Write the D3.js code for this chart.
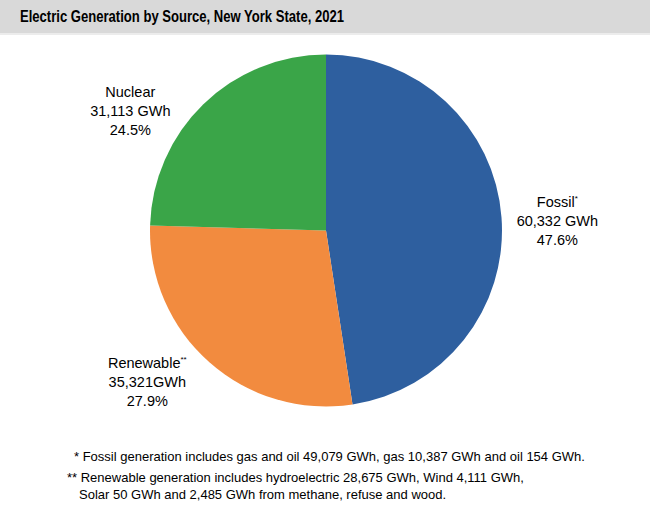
<!DOCTYPE html>
<html>
<head>
<meta charset="utf-8">
<script src="https://cdn.jsdelivr.net/npm/d3@7"></script>
<style>
  html, body { margin: 0; padding: 0; background: #ffffff; }
  svg { display: block; }
  text { font-family: "Liberation Sans", Arial, Helvetica, sans-serif; fill: #000; }
</style>
</head>
<body>
<svg id="chart" width="650" height="509"></svg>
<script>
const title = "Electric Generation by Source, New York State, 2021";
const categories = ["Fossil", "Renewable", "Nuclear"];
const values = [60332, 35321, 31113];
const valueLabels = ["60,332 GWh", "35,321GWh", "31,113 GWh"];
const percentLabels = ["47.6%", "27.9%", "24.5%"];
const markers = ["*", "**", ""];
const colors = ["#2e5f9f", "#f28b3f", "#3aa548"];
const footnotes = [
  ["* Fossil generation includes gas and oil 49,079 GWh, gas 10,387 GWh and oil 154 GWh."],
  ["** Renewable generation includes hydroelectric 28,675 GWh, Wind 4,111 GWh,",
   "Solar 50 GWh and 2,485 GWh from methane, refuse and wood."]
];

const svg = d3.select("#chart");
const W = 650, H = 509;

// title bar
svg.append("rect").attr("x", 0).attr("y", 0).attr("width", W).attr("height", 33).attr("fill", "#d9d9d9");
svg.append("rect").attr("x", 0).attr("y", 33).attr("width", W).attr("height", 2).attr("fill", "#ececec");
svg.append("text")
  .attr("x", 20).attr("y", 22)
  .attr("font-size", 16).attr("font-weight", "bold")
  .attr("textLength", 324).attr("lengthAdjust", "spacingAndGlyphs")
  .text(title);

// pie
const cx = 326, cy = 230.5, R = 176;
const data = categories.map((c, i) => ({ name: c, value: values[i], color: colors[i],
  vlabel: valueLabels[i], plabel: percentLabels[i], marker: markers[i] }));
const pie = d3.pie().sort(null).value(d => d.value);
const arc = d3.arc().innerRadius(0).outerRadius(R);
const arcs = pie(data);

const g = svg.append("g").attr("transform", `translate(${cx},${cy})`);
g.selectAll("path").data(arcs).join("path")
  .attr("d", arc)
  .attr("fill", d => d.data.color);

// labels placed outside along each slice's mid-angle, with small offsets
const labelArc = d3.arc().innerRadius(232).outerRadius(232);
const labelShift = [[0, 13], [-25, -17], [-34, 52]];
arcs.forEach((a, i) => {
  const [px, py] = labelArc.centroid(a);
  const lx = cx + px + labelShift[i][0];
  const ly = cy + py + labelShift[i][1];
  const t = svg.append("text").attr("text-anchor", "middle").attr("font-size", 14.5);
  const l1 = t.append("tspan").attr("x", lx).attr("y", ly - 19);
  l1.append("tspan").text(a.data.name);
  if (a.data.marker) {
    l1.append("tspan").attr("font-size", 8).attr("dy", -6).text(a.data.marker);
  }
  t.append("tspan").attr("x", lx).attr("y", ly).text(a.data.vlabel);
  t.append("tspan").attr("x", lx).attr("y", ly + 19).text(a.data.plabel);
});

// footnotes
const fy = [461, 482];
const ft = svg.append("g");
ft.append("text").attr("x", 74).attr("y", fy[0]).attr("font-size", 13).text(footnotes[0][0]);
ft.append("text").attr("x", 67).attr("y", fy[1]).attr("font-size", 13).text(footnotes[1][0]);
ft.append("text").attr("x", 79).attr("y", fy[1] + 17).attr("font-size", 13).text(footnotes[1][1]);
</script>
</body>
</html>
